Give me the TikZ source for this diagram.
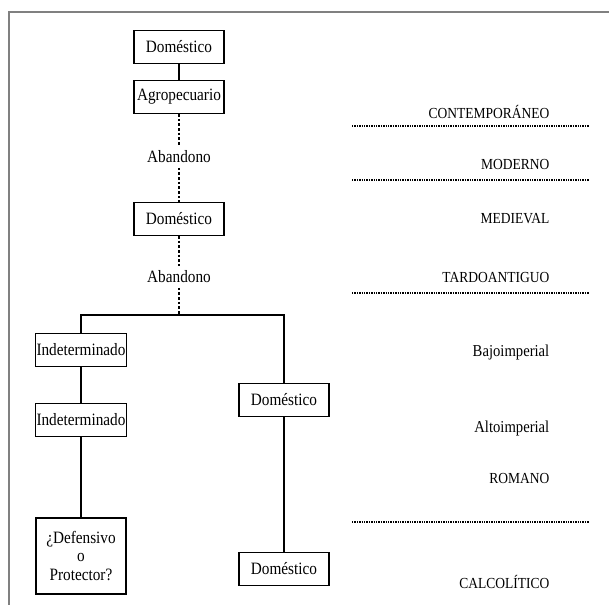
\documentclass[tikz,border=0pt]{standalone}
\usepackage{fontspec}
\setmainfont{Liberation Serif}[FakeStretch=0.88]
\begin{document}
\begin{tikzpicture}[x=0.75pt,y=-0.75pt,
	caja/.style={draw, line width=0.8pt, minimum width=67.5pt, minimum height=24.75pt, inner sep=1pt, font=\fontsize{13}{14}\selectfont},
	etiq/.style={font=\fontsize{13}{14}\selectfont},
	periodo/.style={anchor=east, font=\fontsize{11.5}{13}\selectfont},
	fase/.style={anchor=east, font=\fontsize{12.5}{14}\selectfont},
	corte/.style={dash pattern=on 1pt off 0.8pt, line width=1.1pt},
	salto/.style={dash pattern=on 2pt off 1.5pt, line width=0.8pt},
	enlace/.style={line width=0.8pt}]
		\useasboundingbox (0,0) rectangle (609,605);
		\draw[gray, line width=1.2pt] (609,12) -- (9,12) -- (9,605);
		
		\node[caja] (DA) at (179,47) {Doméstico};
		\node[caja] (AG) at (179,97) {Agropecuario};
		\node[etiq] (AB1) at (179,157) {Abandono};
		\node[caja] (DB) at (179,219) {Doméstico};
		\node[etiq] (AB2) at (179,277) {Abandono};
		\coordinate (BM) at (179,315);
		\node[caja] (IA) at (81,350) {Indeterminado};
		\node[caja] (IB) at (81,420) {Indeterminado};
		\node[caja, minimum height=57pt, align=center] (DP) at (81,556) {¿Defensivo\\o\\Protector?};
		\node[caja] (DC) at (284,400) {Doméstico};
		\node[caja] (DD) at (284,569) {Doméstico};
		
		\draw[enlace] (DA)--(AG);
		\draw[salto] (AG)--(AB1);
		\draw[salto] (AB1)--(DB);
		\draw[salto] (DB)--(AB2);
		\draw[salto] (AB2)--(BM);
		\draw[enlace] (IA.north) |- (BM) -| (DC.north);
		\draw[enlace] (IA)--(IB);
		\draw[enlace] (IB)--(DP);
		\draw[enlace] (DC)--(DD);
		
		\node[periodo] (CO) at (554,112) {CONTEMPORÁNEO};
		\node[periodo] (MO) at (554,165) {MODERNO};
		\node[periodo] (ME) at (554,219) {MEDIEVAL};
		\node[periodo] (TA) at (554,277) {TARDOANTIGUO};
		\node[fase] (BJ) at (554,352) {Bajoimperial};
		\node[fase] (AL) at (554,428) {Altoimperial};
		\node[periodo] (RO) at (554,478) {ROMANO};
		\node[periodo] (CA) at (554,582) {CALCOLÍTICO};
		
		\draw[corte] (352,126)--(589,126);
		\draw[corte] (352,180)--(589,180);
		\draw[corte] (352,293)--(589,293);
		\draw[corte] (352,522)--(589,522);
\end{tikzpicture}
\end{document}
